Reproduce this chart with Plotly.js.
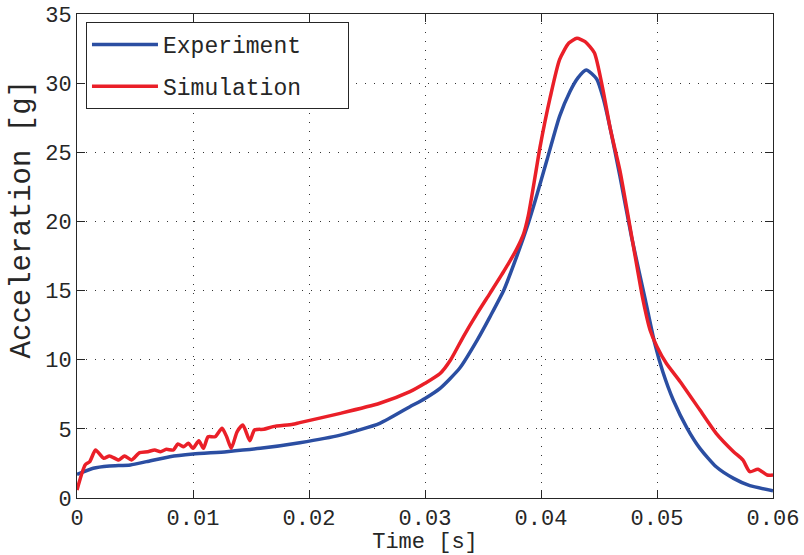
<!DOCTYPE html>
<html>
<head>
<meta charset="utf-8">
<script src="https://cdn.plot.ly/plotly-3.0.1.min.js"></script>
<style>html,body{margin:0;padding:0;background:#fff;}#chart{width:804px;height:555px;}</style>
</head>
<body>
<div id="chart"></div>
<script>
// Experiment (time in s, acceleration in g)
const expTime = [0, 0.0014, 0.0028, 0.0046, 0.006, 0.008, 0.010, 0.0129, 0.0158, 0.0192, 0.0227, 0.0261, 0.0287, 0.030, 0.0313, 0.033, 0.0345, 0.0356, 0.0368, 0.0379, 0.0388, 0.0395, 0.0405, 0.0416, 0.0425, 0.0432, 0.0439, 0.0448, 0.0454, 0.046, 0.0468, 0.0478, 0.049, 0.0498, 0.0505, 0.0514, 0.0526, 0.0537, 0.0551, 0.0566, 0.058, 0.06];
const expAcc = [1.7, 2.15, 2.31, 2.39, 2.63, 2.99, 3.18, 3.35, 3.59, 4.0, 4.55, 5.4, 6.6, 7.2, 7.93, 9.4, 11.42, 13.1, 15.04, 17.45, 19.6, 21.5, 24.4, 27.6, 29.4, 30.4, 30.95, 30.3, 28.8, 26.6, 23.3, 18.9, 14.3, 11.2, 9.13, 7.09, 5.04, 3.59, 2.26, 1.42, 0.89, 0.53];

// Simulation
const simTime = [0, 0.0007, 0.0011, 0.0016, 0.0023, 0.0028, 0.0036, 0.0041, 0.0047, 0.0054, 0.0061, 0.0067, 0.0072, 0.0077, 0.0083, 0.0087, 0.0092, 0.0096, 0.0100, 0.0105, 0.0109, 0.0113, 0.0119, 0.0125, 0.0129, 0.0133, 0.0138, 0.0143, 0.0149, 0.0153, 0.0161, 0.0169, 0.0186, 0.0192, 0.0227, 0.0261, 0.0287, 0.030, 0.0313, 0.0322, 0.0333, 0.0345, 0.0356, 0.0368, 0.0379, 0.0385, 0.0389, 0.0392, 0.0396, 0.0399, 0.0408, 0.0416, 0.0424, 0.0431, 0.0438, 0.0446, 0.0453, 0.046, 0.0468, 0.0478, 0.0488, 0.0494, 0.050, 0.0508, 0.052, 0.0537, 0.0551, 0.0566, 0.0574, 0.058, 0.0587, 0.0595, 0.06];
const simAcc = [0.58, 2.39, 2.63, 3.47, 2.87, 3.04, 2.75, 3.04, 2.75, 3.28, 3.35, 3.47, 3.35, 3.52, 3.47, 3.9, 3.71, 3.96, 3.59, 4.14, 3.59, 4.43, 4.43, 5.04, 4.43, 3.59, 4.79, 5.28, 4.14, 4.92, 4.97, 5.16, 5.33, 5.45, 6.12, 6.85, 7.69, 8.29, 9.0, 9.98, 11.66, 13.35, 14.8, 16.4, 18.0, 19.1, 20.4, 21.8, 23.8, 25.3, 29.0, 31.7, 32.9, 33.24, 33.0, 32.2, 29.7, 26.6, 23.7, 19.0, 14.3, 12.15, 10.94, 9.74, 8.41, 6.36, 4.68, 3.35, 2.75, 1.9, 2.08, 1.66, 1.66];

const xTicks = [0, 0.01, 0.02, 0.03, 0.04, 0.05, 0.06];
const xTickLabels = ['0', '0.01', '0.02', '0.03', '0.04', '0.05', '0.06'];
const yTicks = [0, 5, 10, 15, 20, 25, 30, 35];

const FONT = '"Liberation Mono", "Courier New", monospace';
const NB = '\u00a0';

const traces = [
  {x: expTime, y: expAcc, name: 'Experiment' + NB.repeat(3), type: 'scatter', mode: 'lines',
   line: {color: '#2b4ea2', width: 3.5, shape: 'spline', smoothing: 0.6}, legendgroup: 'a'},
  {x: simTime, y: simAcc, name: 'Simulation' + NB.repeat(3), type: 'scatter', mode: 'lines',
   line: {color: '#ea1f28', width: 3.5, shape: 'spline', smoothing: 0.6}, legendgroup: 'b'}
];

const axisCommon = {
  showline: true, linecolor: '#262626', linewidth: 1, mirror: 'ticks',
  ticks: 'inside', ticklen: 8, tickcolor: '#262626', tickwidth: 1,
  showgrid: true, gridcolor: '#333', gridwidth: 1, griddash: '1px,8px',
  zeroline: false,
  tickfont: {family: FONT, size: 22, color: '#262626'}
};

const layout = {
  width: 804, height: 555,
  margin: {l: 77, r: 31, t: 14, b: 57},
  paper_bgcolor: '#fff', plot_bgcolor: '#fff',
  showlegend: true,
  xaxis: Object.assign({}, axisCommon, {
    range: [0, 0.06], tickvals: xTicks, ticktext: xTickLabels,
    title: {text: 'Time [s]', font: {family: FONT, size: 22, color: '#262626'}, standoff: 2}
  }),
  yaxis: Object.assign({}, axisCommon, {
    range: [0, 35], tickvals: yTicks
  }),
  annotations: [{
    text: 'Acceleration [g]', textangle: -90,
    xref: 'paper', yref: 'paper', x: -0.078, y: 0.575,
    xanchor: 'center', yanchor: 'middle', showarrow: false,
    font: {family: FONT, size: 29, color: '#262626'}
  }],
  legend: {
    x: 0.0129, y: 0.9835, xanchor: 'left', yanchor: 'top',
    bgcolor: '#fff', bordercolor: '#262626', borderwidth: 1,
    font: {family: FONT, size: 23, color: '#262626'},
    traceorder: 'grouped', tracegroupgap: 9, itemwidth: 66
  }
};

Plotly.newPlot('chart', traces, layout, {displayModeBar: false, staticPlot: true});
</script>
</body>
</html>
